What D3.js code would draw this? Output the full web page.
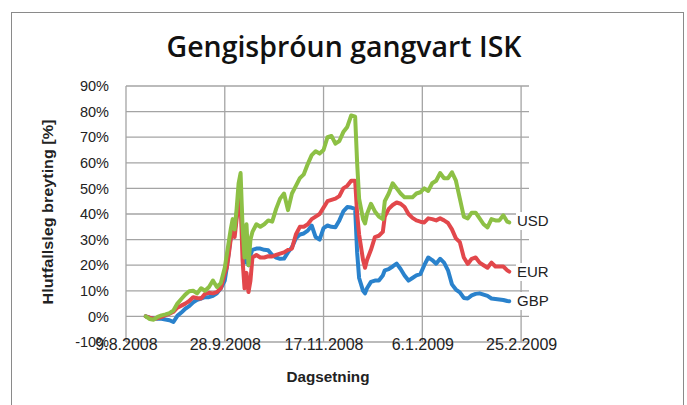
<!DOCTYPE html>
<html><head><meta charset="utf-8">
<script src="https://cdn.jsdelivr.net/npm/d3@7"></script>
<style>body{margin:0;background:#fff}svg{display:block}</style>
</head><body>
<svg id="c" width="687" height="405"></svg>
<script>
const dates = ["2008-08-19","2008-08-21","2008-08-23","2008-08-25","2008-08-27","2008-08-29","2008-08-31","2008-09-02","2008-09-04","2008-09-06","2008-09-08","2008-09-10","2008-09-12","2008-09-14","2008-09-16","2008-09-18","2008-09-20","2008-09-22","2008-09-24","2008-09-26","2008-09-28","2008-09-29","2008-09-30","2008-10-01","2008-10-02","2008-10-03","2008-10-04","2008-10-05","2008-10-06","2008-10-07","2008-10-08","2008-10-09","2008-10-10","2008-10-11","2008-10-12","2008-10-14","2008-10-16","2008-10-18","2008-10-20","2008-10-22","2008-10-24","2008-10-26","2008-10-28","2008-10-30","2008-11-01","2008-11-03","2008-11-05","2008-11-07","2008-11-09","2008-11-11","2008-11-13","2008-11-15","2008-11-17","2008-11-19","2008-11-21","2008-11-23","2008-11-25","2008-11-27","2008-11-29","2008-12-01","2008-12-03","2008-12-04","2008-12-05","2008-12-07","2008-12-08","2008-12-09","2008-12-11","2008-12-13","2008-12-15","2008-12-17","2008-12-18","2008-12-20","2008-12-22","2008-12-24","2008-12-26","2008-12-28","2008-12-30","2009-01-01","2009-01-03","2009-01-05","2009-01-07","2009-01-09","2009-01-11","2009-01-13","2009-01-15","2009-01-17","2009-01-19","2009-01-21","2009-01-23","2009-01-25","2009-01-27","2009-01-29","2009-01-31","2009-02-02","2009-02-04","2009-02-06","2009-02-08","2009-02-10","2009-02-12","2009-02-14","2009-02-16","2009-02-18","2009-02-19"];
const usd = [0,-1.0,-1.3,-0.2,0.4,0.8,1.3,2.3,5.0,6.8,8.5,9.8,10.0,9.0,11.0,10.0,11.5,14.0,11.5,13.0,19,24,29,34,38,34,42,52,56,35,23,36,20,30,33,36,35,36,37.5,37,42,46,48,41.5,48,51,54,55.5,59.5,63,64.5,63.6,65,70,70.5,67.5,68.5,72,74,78.5,78,60,46,38,36.3,40,44,41,39,38,45,48,52,50,48,46.5,46.5,46.5,48,48.5,50,49,52,53,56,54,54,56.3,53,46,39,38.3,40.5,40.5,38.3,36,34.8,38,37.5,37.5,39.5,37,36.7];
const eur = [0,-0.5,-0.9,-0.7,-0.2,0.5,1.0,1.8,3.4,4.2,5.0,6.0,7.5,7.2,7.0,8.8,9.2,9.0,9.5,11.0,16.8,19,24,30,34,31,38,44,46,22,11,17,9.5,14,23,24,23,23,23.5,23.4,24,24.5,25,26,26.5,32,35,35,36,38,39,40,42.5,45,45.5,46,47,50,51,53,53,40,32,22,19,22,26,31,31.5,33,39,42,43.5,44.5,44,42.7,40,38.5,37.5,37,36.7,38.3,38,37.5,38.3,37.5,36.5,34,30.5,29,23,20.5,22.5,23,21,20,19,21,19.5,19.5,19.5,18,17.5];
const gbp = [0,-0.5,-0.8,-0.9,-0.9,-1.2,-1.5,-2.2,0.2,1.5,3.0,4.0,5.5,6.5,7.0,7.5,7.5,8.0,9.0,11.0,14,19,25,31,34,33,40,45,47,30,21,24,20,24,26,26.5,26.5,26,25.8,24,23,22.5,22.6,25,27,30.5,32,32.4,33.5,35.5,31,30,34.5,35.5,35,34.8,37.5,41,42.7,42.5,42,25,15,10,9,11,13.5,14,14,16,18,18.5,19.5,20.6,18.5,16,14,15,16,16.5,20,23,22,20.6,22.5,21,18,12.5,10.5,9.4,7.2,7,8.2,8.8,9,8.5,8,7,6.8,6.6,6.4,6,5.9];
const seriesNames = ["GBP","EUR","USD"];
const seriesColors = ["#2a82cc","#e2474b","#8dc045"];
const yTicks = [-10,0,10,20,30,40,50,60,70,80,90];
const xTickDates = ["2008-08-09","2008-09-28","2008-11-17","2009-01-06","2009-02-25"];

const parse = d3.utcParse("%Y-%m-%d");
const fmt = d => `${d.getUTCDate()}.${d.getUTCMonth()+1}.${d.getUTCFullYear()}`;
const svg = d3.select("#c");
const font = "'Liberation Sans', Arial, sans-serif";

// outer frame
svg.append("rect").attr("x",11.5).attr("y",12.5).attr("width",672).attr("height",400)
  .attr("fill","#fff").attr("stroke","#8a8a8a").attr("stroke-width",1);

const x = d3.scaleUtc().domain([parse("2008-08-09"), parse("2009-03-01")]).range([126, 529]);
const y = d3.scaleLinear().domain([-10, 90]).range([342, 86]);

const grid = svg.append("g").attr("stroke","#a4a4a4").attr("stroke-width",1.3);
yTicks.forEach(t => grid.append("line").attr("x1",126).attr("x2",529).attr("y1",y(t)).attr("y2",y(t)));
xTickDates.forEach(t => grid.append("line").attr("x1",x(parse(t))).attr("x2",x(parse(t))).attr("y1",86).attr("y2",342));

// axes labels
svg.append("g").attr("transform","translate(126,0)")
  .call(d3.axisLeft(y).tickValues(yTicks).tickFormat(d=>d+"%").tickSize(0).tickPadding(17))
  .call(g=>{g.select(".domain").remove(); g.selectAll("text").attr("font-family",font).attr("font-size",14.5).attr("fill","#222");});
svg.append("g").attr("transform","translate(0,342)")
  .call(d3.axisBottom(x).tickValues(xTickDates.map(parse)).tickFormat(fmt).tickSize(0).tickPadding(-3))
  .call(g=>{g.select(".domain").remove(); g.selectAll("text").attr("font-family",font).attr("font-size",16).attr("fill","#222");});

// lines
const vals = [gbp, eur, usd];
const line = d3.line().x(d=>x(d[0])).y(d=>y(d[1])).curve(d3.curveLinear);
vals.forEach((v,i)=>{
  const data = dates.map((d,j)=>[parse(d), v[j]]);
  svg.append("path").datum(data).attr("d",line).attr("fill","none")
    .attr("stroke",seriesColors[i]).attr("stroke-width",4).attr("stroke-linejoin","round").attr("stroke-linecap","round");
});

// end labels
vals.forEach((v,i)=>{
  const yy = {GBP:301, EUR:272, USD:221}[seriesNames[i]];
  svg.append("rect").attr("x",516).attr("y",yy-9).attr("width",34).attr("height",18).attr("fill","#fff");
  svg.append("text").attr("x",517).attr("y",yy).attr("dy","0.35em").attr("font-family",font).attr("font-size",15)
    .attr("fill","#222").text(seriesNames[i]);
});

// titles
svg.append("text").attr("x",344).attr("y",57).attr("text-anchor","middle").attr("font-family","'Open Sans', sans-serif")
  .attr("font-size",28).attr("font-weight","600").attr("textLength",355).attr("lengthAdjust","spacingAndGlyphs")
  .attr("fill","#111").text("Gengisþróun gangvart ISK");
svg.append("text").attr("transform","translate(53,212) rotate(-90)").attr("text-anchor","middle").attr("font-family",font)
  .attr("font-size",14).attr("font-weight","bold").attr("textLength",185).attr("lengthAdjust","spacingAndGlyphs")
  .attr("fill","#222").text("Hlutfallsleg breyting [%]");
svg.append("text").attr("x",328).attr("y",382).attr("text-anchor","middle").attr("font-family",font)
  .attr("font-size",14.5).attr("font-weight","bold").attr("textLength",83).attr("lengthAdjust","spacingAndGlyphs")
  .attr("fill","#222").text("Dagsetning");
</script>
</body></html>
